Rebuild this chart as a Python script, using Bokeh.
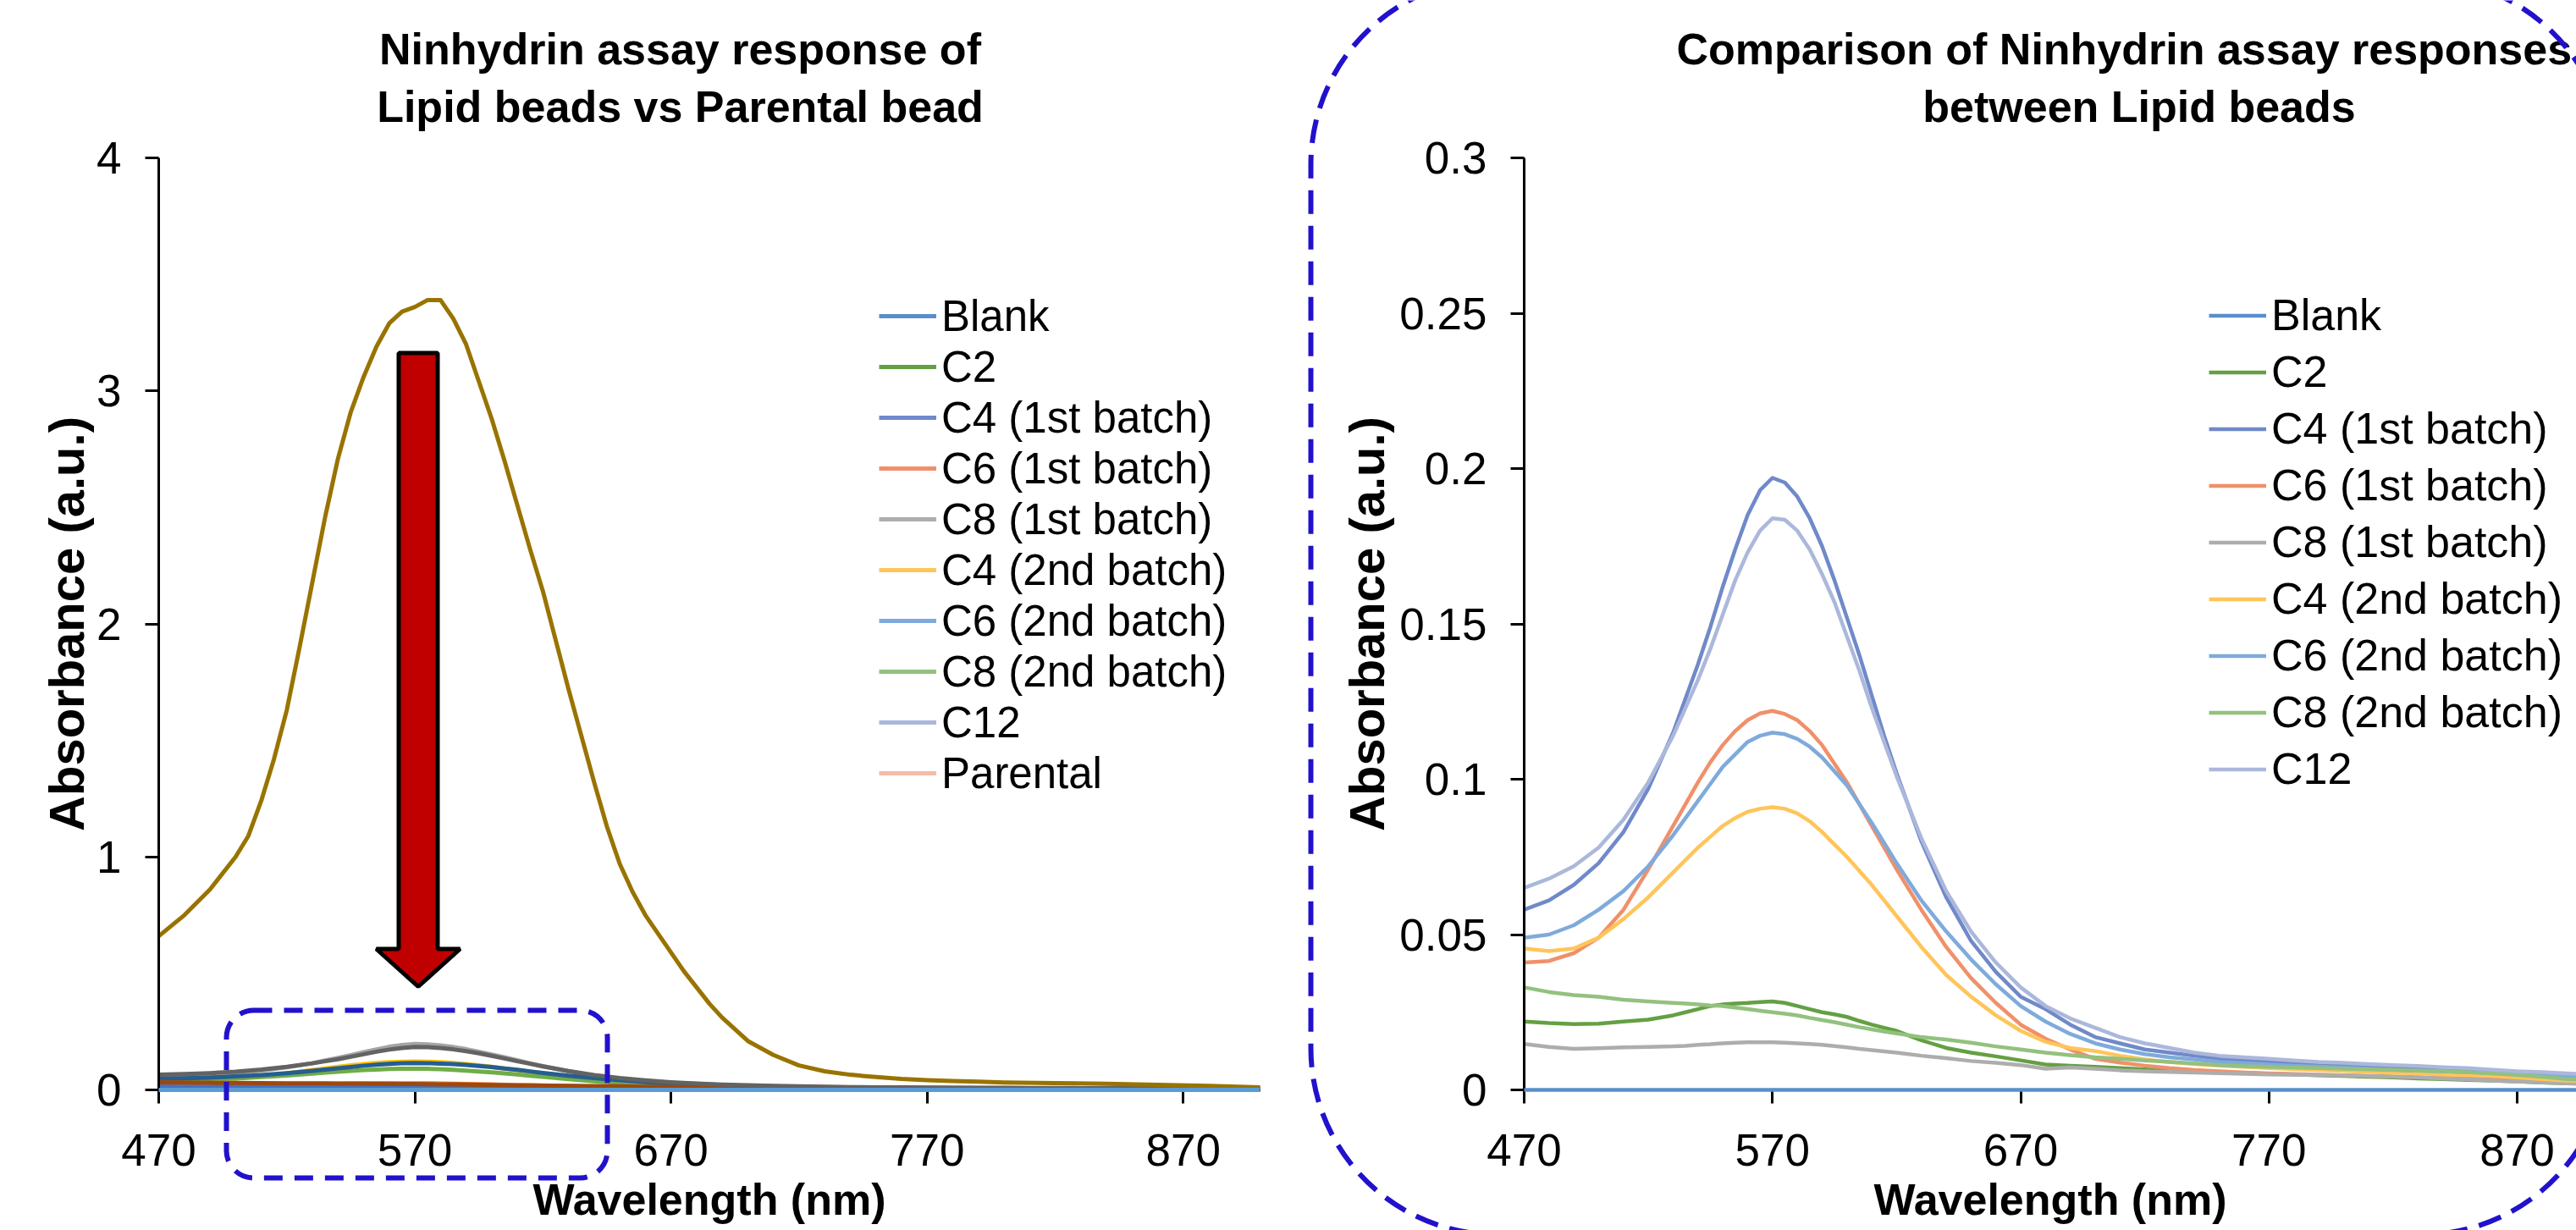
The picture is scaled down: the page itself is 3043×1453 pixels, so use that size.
import numpy as np
from bokeh.plotting import figure
from bokeh.models import (Range1d, FixedTicker, CustomJSTickFormatter, Legend, LegendItem,
                          BoxAnnotation, PolyAnnotation, Label, LinearAxis)
from bokeh.layouts import row
from bokeh.embed import file_html
from bokeh.resources import INLINE

# ---------------- data ----------------
wavelength_nm = [470, 480, 490, 500, 510, 520, 530,
                 535, 540, 545, 550, 555, 560, 565, 570, 575, 580, 585, 590, 595, 600, 605, 610, 615, 620,
                 630, 640, 650, 660, 670, 680, 690, 700, 710, 720, 730, 740, 750, 760,
                 770, 780, 790, 800, 810, 820, 830, 840, 850, 860, 870, 880, 890, 900]

blank = [0.0, 0.0, 0.0, 0.0, 0.0, 0.0, 0.0,
         0.0, 0.0, 0.0, 0.0, 0.0, 0.0, 0.0, 0.0, 0.0, 0.0, 0.0, 0.0, 0.0, 0.0, 0.0, 0.0, 0.0, 0.0,
         0.0, 0.0, 0.0, 0.0, 0.0, 0.0, 0.0, 0.0, 0.0, 0.0, 0.0, 0.0, 0.0, 0.0,
         0.0, 0.0, 0.0, 0.0, 0.0, 0.0, 0.0, 0.0, 0.0, 0.0, 0.0, 0.0, 0.0, 0.0]
c2 = [0.022, 0.0215, 0.0212, 0.0213, 0.022, 0.0226, 0.024,
      0.025, 0.026, 0.027, 0.0275, 0.0278, 0.028, 0.0283, 0.0285, 0.028, 0.027, 0.026, 0.025,
      0.0243, 0.0235, 0.0222, 0.021, 0.020, 0.019,
      0.016, 0.0135, 0.012, 0.0108, 0.0095, 0.0082, 0.0078, 0.0074, 0.007, 0.0066, 0.0063, 0.006,
      0.0057, 0.0055, 0.0052, 0.005, 0.0047, 0.0045, 0.0042, 0.004, 0.0037, 0.0035, 0.0032, 0.003,
      0.0027, 0.0024, 0.0021, 0.0019]
c4_1st = [0.058, 0.061, 0.066, 0.073, 0.083, 0.097, 0.115,
          0.126, 0.137, 0.149, 0.162, 0.174, 0.185, 0.193, 0.197, 0.1955, 0.191, 0.184, 0.175,
          0.164, 0.152, 0.140, 0.127, 0.114, 0.102,
          0.080, 0.062, 0.048, 0.038, 0.030, 0.026, 0.021, 0.017, 0.015, 0.013, 0.012, 0.011,
          0.010, 0.0095, 0.009, 0.0085, 0.008, 0.0078, 0.0075, 0.007, 0.0067, 0.0063, 0.006, 0.0055,
          0.005, 0.0047, 0.0045, 0.0042]
c6_1st = [0.041, 0.0415, 0.044, 0.049, 0.058, 0.071, 0.085,
          0.092, 0.099, 0.1055, 0.111, 0.1155, 0.119, 0.1212, 0.122, 0.121, 0.119, 0.1155, 0.111,
          0.105, 0.099, 0.092, 0.085, 0.078, 0.071,
          0.058, 0.046, 0.036, 0.028, 0.021, 0.0165, 0.013, 0.010, 0.0088, 0.0078, 0.007, 0.0064,
          0.006, 0.0056, 0.0053, 0.0051, 0.0049, 0.0047, 0.0045, 0.0043, 0.0041, 0.0039, 0.0037, 0.0035,
          0.0033, 0.003, 0.0028, 0.0026]
c8_1st = [0.0148, 0.0138, 0.0132, 0.0134, 0.0137, 0.0138, 0.014,
          0.0142, 0.0145, 0.0147, 0.015, 0.0152, 0.0153, 0.0153, 0.0153, 0.0152, 0.015, 0.0148, 0.0145,
          0.0141, 0.0137, 0.0132, 0.0128, 0.0124, 0.012,
          0.011, 0.0102, 0.0093, 0.0087, 0.008, 0.0068, 0.0072, 0.0068, 0.0063, 0.006, 0.0058, 0.0056,
          0.0054, 0.0052, 0.005, 0.0049, 0.0048, 0.0047, 0.0045, 0.0043, 0.004, 0.0037, 0.0034, 0.003,
          0.0027, 0.0024, 0.0021, 0.0019]
c4_2nd = [0.0455, 0.0447, 0.0455, 0.049, 0.055, 0.062, 0.070,
          0.074, 0.078, 0.0815, 0.085, 0.0875, 0.0895, 0.0905, 0.091, 0.0905, 0.089, 0.0865, 0.083,
          0.079, 0.075, 0.0705, 0.066, 0.061, 0.056,
          0.046, 0.037, 0.030, 0.024, 0.019, 0.0155, 0.0135, 0.0125, 0.011, 0.0098, 0.009, 0.0083,
          0.0078, 0.0074, 0.007, 0.0067, 0.0064, 0.0061, 0.0058, 0.0055, 0.0053, 0.005, 0.0048, 0.0045,
          0.004, 0.0035, 0.003, 0.0028]
c6_2nd = [0.049, 0.050, 0.053, 0.058, 0.064, 0.072, 0.082,
          0.0875, 0.093, 0.0985, 0.104, 0.108, 0.112, 0.114, 0.115, 0.1145, 0.113, 0.1105, 0.107,
          0.1025, 0.098, 0.092, 0.086, 0.0795, 0.073,
          0.061, 0.051, 0.042, 0.034, 0.027, 0.022, 0.018, 0.015, 0.013, 0.0115, 0.0105, 0.0098,
          0.009, 0.0086, 0.0082, 0.0078, 0.0075, 0.0072, 0.0068, 0.0065, 0.0062, 0.006, 0.0057, 0.0054,
          0.005, 0.0047, 0.0045, 0.0042]
c8_2nd = [0.033, 0.0315, 0.0305, 0.030, 0.029, 0.0285, 0.028,
          0.0278, 0.0275, 0.0272, 0.027, 0.0265, 0.026, 0.0255, 0.025, 0.0245, 0.024, 0.0232, 0.0225,
          0.0218, 0.021, 0.0202, 0.0195, 0.0188, 0.0182,
          0.017, 0.0162, 0.0152, 0.014, 0.013, 0.012, 0.0112, 0.0105, 0.010, 0.0095, 0.009, 0.0085,
          0.008, 0.0076, 0.0074, 0.0072, 0.007, 0.0068, 0.0066, 0.0064, 0.0062, 0.006, 0.0057, 0.0053,
          0.0048, 0.0042, 0.0035, 0.003]
c12 = [0.065, 0.068, 0.072, 0.078, 0.087, 0.099, 0.114,
       0.123, 0.132, 0.142, 0.153, 0.164, 0.173, 0.180, 0.184, 0.1835, 0.180, 0.174, 0.166,
       0.157, 0.146, 0.135, 0.123, 0.112, 0.101,
       0.081, 0.064, 0.051, 0.041, 0.033, 0.027, 0.023, 0.020, 0.017, 0.015, 0.0135, 0.012,
       0.011, 0.0105, 0.010, 0.0095, 0.009, 0.0087, 0.0083, 0.008, 0.0077, 0.0073, 0.007, 0.0065,
       0.006, 0.0057, 0.0053, 0.005]

parental_nm = [470, 480, 490,
               500, 505, 510, 515, 520, 525, 530, 535, 540, 545, 550, 555, 560, 565, 570, 575,
               580, 585, 590, 595, 600, 605, 610, 615, 620, 625, 630, 635, 640, 645, 650, 655,
               660, 665, 670, 675, 680, 685, 690, 695, 700,
               710, 720, 730, 740, 750, 760, 770, 780, 790, 800, 820, 840, 860, 880, 900]
parental = [0.66, 0.75, 0.86,
            1.00, 1.09, 1.24, 1.42, 1.63, 1.90, 2.18, 2.46, 2.71, 2.91, 3.06, 3.19, 3.29, 3.34, 3.36, 3.39,
            3.39, 3.31, 3.20, 3.04, 2.88, 2.70, 2.51, 2.32, 2.14, 1.93, 1.72, 1.52, 1.32, 1.13, 0.97, 0.85,
            0.75, 0.67, 0.59, 0.51, 0.44, 0.37, 0.31, 0.26, 0.21,
            0.15, 0.105, 0.08, 0.065, 0.055, 0.047, 0.042, 0.038, 0.035, 0.032, 0.029, 0.026, 0.022,
            0.017, 0.011]

series_names = ["Blank", "C2", "C4 (1st batch)", "C6 (1st batch)", "C8 (1st batch)",
                "C4 (2nd batch)", "C6 (2nd batch)", "C8 (2nd batch)", "C12"]
series_values = [blank, c2, c4_1st, c6_1st, c8_1st, c4_2nd, c6_2nd, c8_2nd, c12]
parental_name = "Parental"

x_ticks = [470, 570, 670, 770, 870]
left_y_ticks = [0, 1, 2, 3, 4]
right_y_ticks = [0, 0.05, 0.1, 0.15, 0.2, 0.25, 0.3]

# ---------------- styles / layout (pixels) ----------------
FONT = "Liberation Sans"
legend_colors = ["#5A8FCB", "#64A043", "#7089C9", "#F0906A", "#ADADAD",
                 "#FFC55A", "#7FAADB", "#93C17E", "#ABB8DB"]
parental_legend_color = "#F4BBAA"
left_line_colors = ["#5B9BD5", "#ED7D31", "#A5A5A5", "#FFC000", "#4472C4",
                    "#70AD47", "#255E91", "#9E480E", "#636363"]
parental_line_color = "#997300"
DASH_BLUE = "#2211CC"
H = 1453
W1, W2 = 1530, 1513


class Mapper:
    """maps canvas pixels (y down) to data units for a figure whose frame fills the canvas"""
    def __init__(self, w, h, px_l, px_r, px_t, px_b, x0, x1, y0, y1):
        self.sx = (px_r - px_l) / (x1 - x0)
        self.sy = (px_b - px_t) / (y1 - y0)
        self.xs = x0 - px_l / self.sx
        self.xe = x0 + (w - px_l) / self.sx
        self.ys = y0 - (h - px_b) / self.sy
        self.ye = y0 + px_b / self.sy

    def x(self, px):
        return self.xs + px / self.sx

    def y(self, py):
        return self.ye - py / self.sy


def make_fig(w, m, x_bounds, y_bounds, y_ticks, ylabel_standoff, formatter=None):
    p = figure(width=w, height=H, x_range=Range1d(m.xs, m.xe), y_range=Range1d(m.ys, m.ye),
               x_axis_location=None, y_axis_location=None, output_backend="svg",
               toolbar_location=None, min_border=0)
    p.outline_line_color = None
    p.background_fill_color = "white"
    p.border_fill_color = "white"
    p.xgrid.visible = False
    p.ygrid.visible = False
    xa = LinearAxis(fixed_location=y_bounds[0], bounds=x_bounds, ticker=FixedTicker(ticks=x_ticks),
                    axis_label="Wavelength (nm)")
    ya = LinearAxis(fixed_location=x_bounds[0], bounds=y_bounds, ticker=FixedTicker(ticks=y_ticks),
                    axis_label="Absorbance (a.u.)")
    if formatter is not None:
        ya.formatter = formatter
    for ax in (xa, ya):
        ax.axis_line_width = 3
        ax.axis_line_color = "black"
        ax.major_tick_line_width = 3
        ax.major_tick_line_color = "black"
        ax.major_tick_out = 16
        ax.major_tick_in = 0
        ax.minor_tick_line_color = None
        ax.major_label_text_font = FONT
        ax.major_label_text_font_size = "53px"
        ax.major_label_text_color = "black"
        ax.axis_label_text_font = FONT
        ax.axis_label_text_font_style = "bold"
        ax.axis_label_text_color = "black"
    xa.axis_label_text_font_size = "52px"
    xa.major_label_standoff = 36
    xa.axis_label_standoff = 8
    ya.axis_label_text_font_size = "58px"
    ya.major_label_standoff = 28
    ya.axis_label_standoff = ylabel_standoff
    p.add_layout(xa, "below")
    p.add_layout(ya, "left")
    return p


def title_label(m, text, px, py, align, size="52px"):
    return Label(x=m.x(px), y=m.y(py), text=text, text_align=align, text_baseline="alphabetic",
                 text_font=FONT, text_font_size=size, text_font_style="bold", text_color="black")


def make_legend(items, loc, row_h, size):
    return Legend(items=items, location=loc, border_line_color=None, background_fill_alpha=0,
                  padding=0, margin=0, spacing=0, glyph_width=68, glyph_height=row_h,
                  label_height=row_h, label_standoff=6, label_text_font=FONT,
                  label_text_font_size=size, label_text_color="black")


# ---------------- left chart ----------------
mL = Mapper(W1, H, 187, 1488, 186, 1287, 470, 900, 0, 4)
p1 = make_fig(W1, mL, (470, 900), (0, 4), left_y_ticks, 0)

for name, vals, col in zip(series_names, series_values, left_line_colors):
    lvl = "annotation" if name == "Blank" else "glyph"
    p1.line(wavelength_nm, vals, line_color=col, line_width=5, line_join="round", level=lvl)
p1.line(parental_nm, parental, line_color=parental_line_color, line_width=5, line_join="round")

# legend swatches (this legend uses the lighter palette of the comparison chart)
left_items = []
for name, col in zip(series_names + [parental_name], legend_colors + [parental_legend_color]):
    r = p1.line(np.array([470.0, 470.0]), np.array([np.nan, np.nan]), line_color=col, line_width=5)
    left_items.append(LegendItem(label=name, renderers=[r]))
p1.add_layout(make_legend(left_items, (1038, H - 943), 60, "51px"))

p1.add_layout(title_label(mL, "Ninhydrin assay response of", 803, 57, "center"))
p1.add_layout(title_label(mL, "Lipid beads vs Parental bead", 803, 125.5, "center"))

# red arrow (pixel outline -> data units)
arrow_px = [(470.5, 416.5), (516.5, 416.5), (516.5, 1120.5), (543, 1120.5), (493.5, 1165),
            (444, 1120.5), (470.5, 1120.5)]
p1.add_layout(PolyAnnotation(xs=[mL.x(a) for a, b in arrow_px], ys=[mL.y(b) for a, b in arrow_px],
                             fill_color="#C00000", fill_alpha=1, line_color="black", line_alpha=1,
                             line_width=5))
# dashed highlight box around the lipid-bead curves
p1.add_layout(BoxAnnotation(left=mL.x(267), right=mL.x(717), top=mL.y(1193), bottom=mL.y(1391),
                            fill_color=None, fill_alpha=0, line_color=DASH_BLUE, line_alpha=1,
                            line_width=6, line_dash="22 14", border_radius=32))

# ---------------- right chart ----------------
mR = Mapper(W2, H, 270, 270 + 430 * 2.9325, 186, 1287, 470, 900, 0, 0.3)
p2 = make_fig(W2, mR, (470, 900), (0, 0.3), right_y_ticks, 3,
              CustomJSTickFormatter(code="return String(Math.round(tick*100)/100);"))

right_items = []
for name, vals, col in zip(series_names, series_values, legend_colors):
    lvl = "annotation" if name == "Blank" else "glyph"
    r = p2.line(wavelength_nm, vals, line_color=col, line_width=4.5, line_join="round", level=lvl)
    right_items.append(LegendItem(label=name, renderers=[r]))
p2.add_layout(make_legend(right_items, (2609 - W1, H - 941.5), 67, "52px"))

p2.add_layout(title_label(mR, "Comparison of Ninhydrin assay responses", 1980 - W1, 57, "left"))
p2.add_layout(title_label(mR, "between Lipid beads", 2526.5 - W1, 125.5, "center"))

# large dashed rounded frame (extends past the page edges)
p2.add_layout(BoxAnnotation(left=mR.x(1548 - W1), right=mR.x(3080 - W1), top=mR.y(-26), bottom=mR.y(1458),
                            fill_color=None, fill_alpha=0, line_color=DASH_BLUE, line_alpha=1,
                            line_width=6, line_dash="28 14", border_radius=220))

layout = row(p1, p2)
open("out.html", "w").write(file_html(layout, INLINE, "Ninhydrin assay"))
